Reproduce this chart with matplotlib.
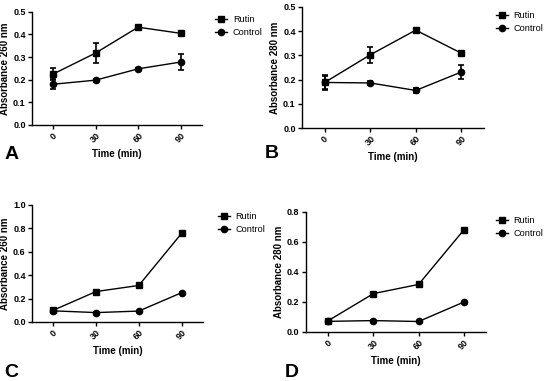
import matplotlib
matplotlib.use("Agg")
import matplotlib.pyplot as plt
from matplotlib import font_manager

# keep the narrow cut of Liberation Sans out of the font matching
font_manager.fontManager.ttflist = [f for f in font_manager.fontManager.ttflist
                                    if "Narrow" not in f.fname]
plt.rcParams['font.family'] = ['Liberation Sans', 'DejaVu Sans']

time = [0, 30, 60, 90]
time_labels = ["0", "30", "60", "90"]

# panel A: absorbance 260 nm
a_rutin = [0.225, 0.318, 0.432, 0.405]
a_rutin_err = [0.025, 0.043, 0.004, 0.008]
a_control = [0.180, 0.198, 0.248, 0.278]
a_control_err = [0.022, 0.006, 0.004, 0.034]

# panel B: absorbance 280 nm
b_rutin = [0.188, 0.302, 0.404, 0.309]
b_rutin_err = [0.030, 0.032, 0.005, 0.005]
b_control = [0.188, 0.186, 0.155, 0.231]
b_control_err = [0.028, 0.008, 0.009, 0.027]

# panel C: absorbance 260 nm
c_rutin = [0.100, 0.260, 0.312, 0.757]
c_rutin_err = [0.020, 0.005, 0.005, 0.005]
c_control = [0.095, 0.080, 0.093, 0.250]
c_control_err = [0.005, 0.004, 0.004, 0.004]

# panel D: absorbance 280 nm
d_rutin = [0.075, 0.255, 0.316, 0.678]
d_rutin_err = [0.010, 0.012, 0.005, 0.005]
d_control = [0.070, 0.075, 0.069, 0.198]
d_control_err = [0.004, 0.004, 0.004, 0.004]

panels = [
    ("A", "Absorbance 260 nm", a_rutin, a_rutin_err, a_control, a_control_err,
     0.5, 0.1, [0.058, 0.672, 0.309, 0.297], (0.385, 0.97), (0.008, 0.582)),
    ("B", "Absorbance 280 nm", b_rutin, b_rutin_err, b_control, b_control_err,
     0.5, 0.1, [0.549, 0.664, 0.331, 0.318], (0.895, 0.98), (0.482, 0.586)),
    ("C", "Absorbance 260 nm", c_rutin, c_rutin_err, c_control, c_control_err,
     1.0, 0.2, [0.058, 0.155, 0.311, 0.307], (0.39, 0.453), (0.008, 0.01)),
    ("D", "Absorbance 280 nm", d_rutin, d_rutin_err, d_control, d_control_err,
     0.8, 0.2, [0.556, 0.129, 0.328, 0.315], (0.895, 0.443), (0.518, 0.01)),
]

fig = plt.figure(figsize=(5.5, 3.81), dpi=100)

for letter, ylab, r, re, c, ce, ymax, ystep, pos, leg_xy, let_xy in panels:
    ax = fig.add_axes(pos)
    ax.errorbar(time, r, yerr=re, color="black", marker="s", markersize=4.5,
                linewidth=1.0, elinewidth=1.2, capsize=2.5, capthick=1.2,
                label="Rutin")
    ax.errorbar(time, c, yerr=ce, color="black", marker="o", markersize=4.5,
                linewidth=1.0, elinewidth=1.2, capsize=2.5, capthick=1.2,
                label="Control")
    ax.set_xlim(-15, 105)
    ax.set_ylim(0, ymax)
    ax.set_xticks(time)
    ax.set_xticklabels(time_labels, rotation=45, fontsize=6.5, fontweight="bold")
    ticks = [round(i * ystep, 1) for i in range(int(round(ymax / ystep)) + 1)]
    ax.set_yticks(ticks)
    ax.set_yticklabels(["%.1f" % t for t in ticks], fontsize=6.5, fontweight="bold")
    ax.spines["top"].set_visible(False)
    ax.spines["right"].set_visible(False)
    ax.spines["left"].set_linewidth(1.0)
    ax.spines["bottom"].set_linewidth(1.0)
    ax.tick_params(length=3, width=1.0, pad=1.5)
    ax.set_xlabel("Time (min)", fontsize=7, fontweight="bold", labelpad=3)
    ax.set_ylabel(ylab, fontsize=7, fontweight="bold", labelpad=2)
    handles, labels = ax.get_legend_handles_labels()
    handles = [h[0] for h in handles]
    ax.legend(handles, labels, loc="upper left", bbox_to_anchor=leg_xy,
              bbox_transform=fig.transFigure, frameon=False, fontsize=6.6,
              handlelength=1.3, handletextpad=0.6, borderaxespad=0,
              labelspacing=0.45)
    fig.text(let_xy[0], let_xy[1], letter, fontsize=14, fontweight="bold")

fig.savefig("out.png", dpi=100)
